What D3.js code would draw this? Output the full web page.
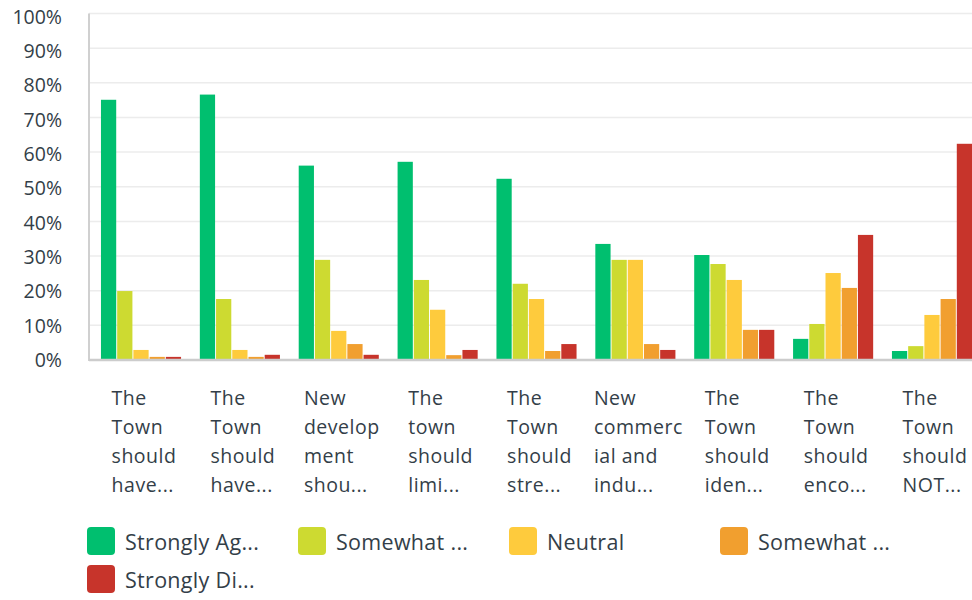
<!DOCTYPE html>
<html>
<head>
<meta charset="utf-8">
<script src="https://cdn.jsdelivr.net/npm/d3@7"></script>
<style>
  html, body { margin: 0; padding: 0; background: #fff; }
  svg { display: block; }
  text { font-family: "Open Sans", "Noto Sans", sans-serif; fill: #333e48; }
</style>
</head>
<body>
<svg id="chart" width="972" height="600"></svg>
<script>
// ---- data ----
const categories = [
  "The Town should have…",
  "The Town should have… ",
  "New development shou…",
  "The town should limi…",
  "The Town should stre…",
  "New commercial and indu…",
  "The Town should iden…",
  "The Town should enco…",
  "The Town should NOT…"
];
const categoryLines = [
  ["The", "Town", "should", "have..."],
  ["The", "Town", "should", "have..."],
  ["New", "develop", "ment", "shou..."],
  ["The", "town", "should", "limi..."],
  ["The", "Town", "should", "stre..."],
  ["New", "commerc", "ial and", "indu..."],
  ["The", "Town", "should", "iden..."],
  ["The", "Town", "should", "enco..."],
  ["The", "Town", "should", "NOT..."]
];
const seriesNames = ["Strongly Agree", "Somewhat Agree", "Neutral", "Somewhat Disagree", "Strongly Disagree"];
const legendLabels = ["Strongly Ag...", "Somewhat ...", "Neutral", "Somewhat ...", "Strongly Di..."];
const stronglyAgree    = [75.1, 76.6, 56.1, 57.2, 52.3, 33.5, 30.3, 6.1, 2.6];
const somewhatAgree    = [19.9, 17.6, 28.9, 23.1, 22.0, 28.9, 27.7, 10.4, 4.0];
const neutral          = [2.9, 2.9, 8.4, 14.5, 17.6, 28.9, 23.1, 25.1, 13.0];
const somewhatDisagree = [0.9, 0.9, 4.6, 1.4, 2.6, 4.6, 8.7, 20.8, 17.6];
const stronglyDisagree = [0.9, 1.5, 1.5, 2.9, 4.6, 2.9, 8.7, 36.1, 62.4];
const yTicks = [0, 10, 20, 30, 40, 50, 60, 70, 80, 90, 100];
const colors = ["#00BF6F", "#CDDA31", "#FECB3D", "#F19F2F", "#C7342B"];

const seriesValues = [stronglyAgree, somewhatAgree, neutral, somewhatDisagree, stronglyDisagree];

// ---- layout ----
const svg = d3.select("#chart");
const plotLeft = 89, plotTop = 13.5, plotBottom = 360, plotRight = 972;

const y = d3.scaleLinear().domain([0, 100]).range([plotBottom, plotTop]);
const x = d3.scaleBand().domain(d3.range(categories.length))
  .range([plotLeft, 984]).paddingInner(0.19).paddingOuter(0.121);
const xs = d3.scaleBand().domain(d3.range(seriesNames.length))
  .range([0, x.bandwidth()]).paddingInner(0.06).paddingOuter(0);

// gridlines
svg.append("g").selectAll("line").data(yTicks.filter(t => t > 0)).join("line")
  .attr("x1", plotLeft).attr("x2", plotRight)
  .attr("y1", d => y(d)).attr("y2", d => y(d))
  .attr("stroke", "#ececec").attr("stroke-width", 1.5);

// y tick labels
svg.append("g").selectAll("text").data(yTicks).join("text")
  .attr("x", 62).attr("y", d => y(d) + (100 - d) * 0.0 + (d / 100) * 3)
  .attr("dy", "0.36em")
  .attr("text-anchor", "end")
  .style("font-size", "19.5px")
  .text(d => d + "%");

// bars
const groups = svg.append("g").selectAll("g").data(categories.map((c, i) => i)).join("g")
  .attr("transform", i => `translate(${x(i)},0)`);
groups.selectAll("rect").data(i => seriesValues.map((vals, s) => ({ s, v: vals[i] }))).join("rect")
  .attr("x", d => xs(d.s))
  .attr("width", xs.bandwidth())
  .attr("y", d => y(d.v))
  .attr("height", d => y(0) - y(d.v))
  .attr("fill", d => colors[d.s]);

// axes lines
svg.append("line").attr("x1", plotLeft).attr("x2", plotLeft)
  .attr("y1", plotTop).attr("y2", plotBottom + 1)
  .attr("stroke", "#d0d0d0").attr("stroke-width", 2);
svg.append("line").attr("x1", plotLeft).attr("x2", plotRight)
  .attr("y1", plotBottom).attr("y2", plotBottom)
  .attr("stroke", "#cccccc").attr("stroke-width", 2.5);

// x labels
const lab = svg.append("g");
categoryLines.forEach((lines, i) => {
  const t = lab.append("text").style("font-size", "19.5px").style("letter-spacing", "0.5px");
  lines.forEach((ln, k) => {
    t.append("tspan").attr("y", 405 + k * 29).text(ln);
  });
  let maxW = 0;
  t.selectAll("tspan").each(function () { maxW = Math.max(maxW, this.getComputedTextLength()); });
  const x0 = x(i) + x.bandwidth() / 2 + 3 - maxW / 2;
  t.selectAll("tspan").attr("x", x0);
});

// legend
const legX = [87, 298, 509, 720, 87];
const legY = [527, 527, 527, 527, 565];
const leg = svg.append("g").selectAll("g").data(seriesNames.map((n, i) => i)).join("g")
  .attr("transform", i => `translate(${legX[i]},${legY[i]})`);
leg.append("rect").attr("width", 28).attr("height", 28).attr("rx", 4).attr("ry", 4)
  .attr("fill", i => colors[i]);
leg.append("text").attr("x", 38).attr("y", 23)
  .style("font-size", "21.5px").style("letter-spacing", "0.3px")
  .text(i => legendLabels[i]);
</script>
</body>
</html>
